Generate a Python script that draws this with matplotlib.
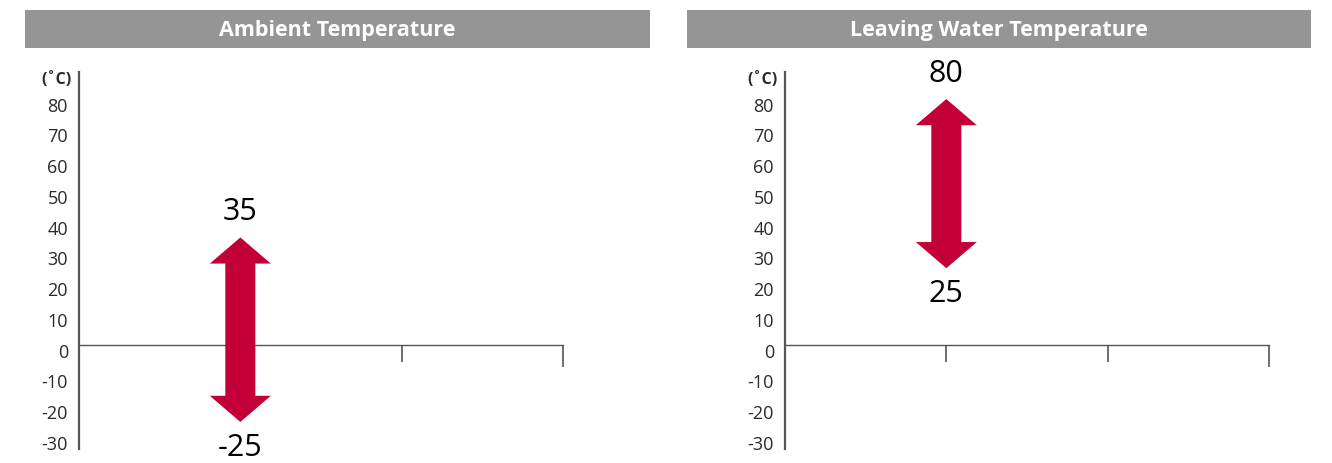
import matplotlib
matplotlib.use("Agg")
import matplotlib.pyplot as plt
import matplotlib.transforms as mtransforms
from matplotlib.patches import Polygon, Rectangle

# Operating ranges (°C)
panel_titles = ["Ambient Temperature", "Leaving Water Temperature"]
range_low = [-25, 25]
range_high = [35, 80]
y_ticks = [80, 70, 60, 50, 40, 30, 20, 10, 0, -10, -20, -30]
unit_label = "(˚C)"

W, H = 1332, 464
fig = plt.figure(figsize=(W / 100, H / 100), dpi=100)
plt.rcParams['font.family'] = ['Open Sans', 'DejaVu Sans']

ARROW = "#C20037"
GREY_BAR = "#959595"
AXIS = "#555555"
TEXT = "#2a2a2a"

panel_left = [79, 785]
panel_bar = [(25, 650), (687, 1311)]
ax_top, ax_bot = 73, 450
ymin, ymax = -33.8, 88.8

label_shift = mtransforms.ScaledTranslation(0, -0.045, fig.dpi_scale_trans)

for i in range(2):
    # grey header bar with title
    x0, x1 = panel_bar[i]
    fig.patches.append(Rectangle((x0 / W, 1 - 48.5 / H), (x1 - x0) / W, 37.5 / H,
                                 transform=fig.transFigure, facecolor=GREY_BAR,
                                 edgecolor="none"))
    fig.text((x0 + x1) / 2 / W, 1 - 30.5 / H, panel_titles[i], color="white",
             fontsize=15.5, fontweight="bold", ha="center", va="center")

    ax = fig.add_axes([panel_left[i] / W, (H - ax_bot) / H, 484 / W,
                       (ax_bot - ax_top) / H])
    ax.set_xlim(0, 3)
    ax.set_ylim(ymin, ymax)
    for s in ("top", "right"):
        ax.spines[s].set_visible(False)
    ax.spines["left"].set_color(AXIS)
    ax.spines["left"].set_linewidth(1.6)
    ax.spines["bottom"].set_position(("data", 0))
    ax.spines["bottom"].set_color(AXIS)
    ax.spines["bottom"].set_linewidth(1.0)

    ax.set_yticks(y_ticks)
    ax.set_yticklabels([str(t) for t in y_ticks])
    ax.tick_params(axis="y", length=0, pad=8, labelsize=13, labelcolor=TEXT)
    for lab in ax.get_yticklabels():
        lab.set_transform(lab.get_transform() + label_shift)
    ax.set_xticks([1, 2])
    ax.set_xticks([3], minor=True)
    ax.set_xticklabels([])
    ax.tick_params(axis="x", which="major", direction="out", length=12.5,
                   width=1.2, color=AXIS)
    ax.tick_params(axis="x", which="minor", direction="out", length=16,
                   width=1.2, color=AXIS)

    fig.text((panel_left[i] - 7) / W, 1 - 80 / H, unit_label, color=TEXT,
             fontsize=11.5, fontweight="bold", ha="right", va="center")

    # double-headed range arrow
    lo, hi = range_low[i], range_high[i]
    xc = 1.0
    sw, hw, hl = 0.093, 0.189, 8.5
    pts = [(xc, hi), (xc + hw, hi - hl), (xc + sw, hi - hl), (xc + sw, lo + hl),
           (xc + hw, lo + hl), (xc, lo), (xc - hw, lo + hl), (xc - sw, lo + hl),
           (xc - sw, hi - hl), (xc - hw, hi - hl)]
    ax.add_patch(Polygon(pts, closed=True, facecolor=ARROW, edgecolor="none",
                         zorder=5, clip_on=False))
    ax.annotate(str(hi), (xc, hi), xytext=(0, 19), textcoords="offset points",
                ha="center", va="center", fontsize=22, color="black",
                annotation_clip=False)
    ax.annotate(str(lo), (xc, lo), xytext=(0, -18), textcoords="offset points",
                ha="center", va="center", fontsize=22, color="black",
                annotation_clip=False)

fig.savefig("out.png", dpi=100)
